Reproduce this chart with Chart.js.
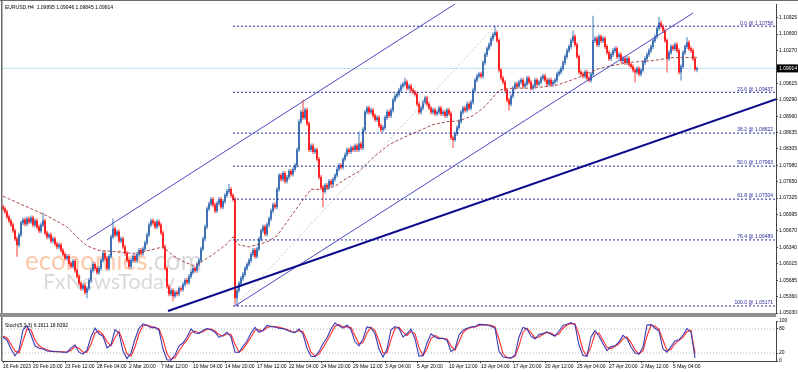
<!DOCTYPE html>
<html>
<head>
<meta charset="utf-8">
<script src="https://cdn.jsdelivr.net/npm/chart.js@4.4.1/dist/chart.umd.min.js"></script>
<style>
html, body { margin: 0; padding: 0; background: #fff; }
#wrap { position: relative; width: 798px; height: 372px; overflow: hidden; background: #fff; }
#main { position: absolute; left: 0; top: 0; }
#stoch { position: absolute; left: 0; top: 317px; }
</style>
</head>
<body>
<div id="wrap">
  <canvas id="main" width="798" height="317"></canvas>
  <canvas id="stoch" width="798" height="55"></canvas>
</div>
<script>
// EURUSD H4 candles (one bar = one H4 period)
const opens = [
1.0715,1.0711,1.0705,1.0695,1.0687,1.0679,1.0667,1.0651,1.0639,1.0659,
1.0683,1.0689,1.0681,1.0691,1.0685,1.0693,1.0679,1.0687,1.0675,1.0667,
1.0679,1.0687,1.0663,1.0655,1.0659,1.0647,1.0651,1.0641,1.0635,1.0639,
1.0628,1.0620,1.0612,1.0616,1.0602,1.0596,1.0606,1.0588,1.0576,1.0562,
1.0552,1.0558,1.0544,1.0552,1.0568,1.0588,1.0600,1.0592,1.0584,1.0592,
1.0608,1.0622,1.0612,1.0592,1.0616,1.0655,1.0671,1.0659,1.0665,1.0647,
1.0651,1.0635,1.0622,1.0608,1.0596,1.0608,1.0616,1.0608,1.0620,1.0628,
1.0622,1.0631,1.0643,1.0659,1.0679,1.0687,1.0683,1.0675,1.0685,1.0679,
1.0663,1.0635,1.0592,1.0556,1.0541,1.0548,1.0537,1.0544,1.0541,1.0552,
1.0550,1.0560,1.0568,1.0564,1.0576,1.0584,1.0592,1.0588,1.0600,1.0608,
1.0631,1.0651,1.0675,1.0711,1.0721,1.0730,1.0719,1.0707,1.0722,1.0730,
1.0715,1.0726,1.0738,1.0746,1.0750,1.0738,1.0730,1.0533,1.0548,1.0562,
1.0572,1.0580,1.0592,1.0600,1.0608,1.0620,1.0628,1.0616,1.0631,1.0651,
1.0667,1.0675,1.0661,1.0679,1.0691,1.0707,1.0719,1.0715,1.0750,1.0778,
1.0770,1.0782,1.0766,1.0774,1.0786,1.0780,1.0790,1.0798,1.0829,1.0885,
1.0904,1.0893,1.0908,1.0881,1.0829,1.0837,1.0825,1.0829,1.0810,1.0774,
1.0754,1.0746,1.0758,1.0754,1.0766,1.0760,1.0770,1.0778,1.0790,1.0798,
1.0794,1.0810,1.0819,1.0829,1.0825,1.0833,1.0829,1.0837,1.0829,1.0841,
1.0833,1.0869,1.0904,1.0912,1.0904,1.0908,1.0897,1.0889,1.0893,1.0877,
1.0869,1.0873,1.0893,1.0904,1.0897,1.0908,1.0928,1.0936,1.0940,1.0948,
1.0956,1.0960,1.0964,1.0952,1.0956,1.0948,1.0944,1.0940,1.0920,1.0904,
1.0912,1.0924,1.0932,1.0920,1.0912,1.0904,1.0908,1.0901,1.0904,1.0912,
1.0901,1.0904,1.0897,1.0908,1.0901,1.0853,1.0849,1.0861,1.0873,1.0885,
1.0904,1.0912,1.0908,1.0920,1.0912,1.0924,1.0948,1.0968,1.0976,1.0980,
1.0976,1.1003,1.1019,1.1031,1.1039,1.1051,1.1059,1.1063,1.1047,1.0988,
1.0972,1.0964,1.0948,1.0928,1.0920,1.0936,1.0952,1.0960,1.0956,1.0964,
1.0968,1.0956,1.0960,1.0972,1.0964,1.0952,1.0956,1.0968,1.0960,1.0964,
1.0972,1.0976,1.0968,1.0960,1.0968,1.0960,1.0964,1.0968,1.0980,1.0984,
1.0991,1.1003,1.1015,1.1027,1.1035,1.1047,1.1055,1.1039,1.1015,1.0984,
1.0980,1.0976,1.0984,1.0972,1.0968,1.0980,1.1047,1.1051,1.1039,1.1055,
1.1047,1.1051,1.1035,1.1023,1.1011,1.1019,1.1027,1.1031,1.1015,1.1019,
1.1007,1.1011,1.1003,1.1011,1.0999,1.0995,1.0988,1.0984,1.0991,1.0980,
1.0988,1.1003,1.1011,1.1019,1.1027,1.1035,1.1047,1.1055,1.1071,1.1082,
1.1075,1.1067,1.1047,1.1011,1.1023,1.1035,1.1031,1.1039,1.1027,1.0984,
1.0995,1.1023,1.1035,1.1043,1.1031,1.1027,1.1011,1.09895
];
const highs = [
1.0719,1.0715,1.0709,1.0699,1.0691,1.0683,1.0671,1.0655,1.0663,1.0687,
1.0693,1.0693,1.0695,1.0695,1.0697,1.0697,1.0691,1.0691,1.0679,1.0683,
1.0703,1.0691,1.0667,1.0663,1.0663,1.0655,1.0655,1.0645,1.0643,1.0643,
1.0632,1.0624,1.0620,1.0620,1.0606,1.0610,1.0610,1.0592,1.0580,1.0566,
1.0562,1.0562,1.0556,1.0572,1.0592,1.0604,1.0604,1.0596,1.0596,1.0612,
1.0626,1.0626,1.0616,1.0620,1.0659,1.0691,1.0675,1.0669,1.0669,1.0655,
1.0655,1.0639,1.0626,1.0612,1.0612,1.0620,1.0620,1.0624,1.0632,1.0632,
1.0635,1.0647,1.0663,1.0683,1.0691,1.0691,1.0687,1.0689,1.0689,1.0683,
1.0667,1.0639,1.0596,1.0560,1.0552,1.0552,1.0548,1.0548,1.0556,1.0556,
1.0564,1.0572,1.0572,1.0580,1.0588,1.0596,1.0596,1.0604,1.0612,1.0635,
1.0655,1.0679,1.0715,1.0725,1.0734,1.0734,1.0723,1.0726,1.0734,1.0734,
1.0730,1.0742,1.0750,1.0760,1.0754,1.0742,1.0734,1.0552,1.0566,1.0576,
1.0584,1.0596,1.0604,1.0612,1.0624,1.0632,1.0632,1.0635,1.0655,1.0671,
1.0679,1.0679,1.0683,1.0695,1.0711,1.0723,1.0723,1.0754,1.0782,1.0782,
1.0786,1.0786,1.0778,1.0790,1.0790,1.0794,1.0802,1.0833,1.0889,1.0908,
1.0928,1.0912,1.0912,1.0885,1.0841,1.0841,1.0833,1.0833,1.0814,1.0778,
1.0758,1.0762,1.0762,1.0770,1.0770,1.0774,1.0782,1.0794,1.0802,1.0802,
1.0814,1.0823,1.0833,1.0833,1.0837,1.0837,1.0841,1.0841,1.0865,1.0845,
1.0873,1.0908,1.0916,1.0916,1.0912,1.0912,1.0901,1.0897,1.0897,1.0881,
1.0877,1.0897,1.0908,1.0908,1.0912,1.0932,1.0940,1.0944,1.0952,1.0960,
1.0964,1.0972,1.0968,1.0960,1.0960,1.0952,1.0948,1.0944,1.0924,1.0916,
1.0928,1.0936,1.0936,1.0924,1.0916,1.0912,1.0912,1.0908,1.0916,1.0916,
1.0908,1.0908,1.0912,1.0912,1.0905,1.0857,1.0865,1.0877,1.0889,1.0908,
1.0916,1.0916,1.0924,1.0924,1.0928,1.0952,1.0972,1.0980,1.0984,1.0984,
1.1007,1.1023,1.1035,1.1043,1.1055,1.1063,1.1076,1.1067,1.1051,1.0992,
1.0976,1.0968,1.0952,1.0932,1.0940,1.0956,1.0964,1.0964,1.0968,1.0972,
1.0972,1.0964,1.0976,1.0976,1.0968,1.0960,1.0972,1.0972,1.0968,1.0976,
1.0980,1.0980,1.0972,1.0972,1.0972,1.0968,1.0972,1.0984,1.0988,1.0995,
1.1007,1.1019,1.1031,1.1039,1.1051,1.1067,1.1059,1.1043,1.1019,1.0988,
1.0984,1.0988,1.0988,1.0976,1.0984,1.1096,1.1055,1.1055,1.1059,1.1059,
1.1055,1.1055,1.1039,1.1027,1.1023,1.1031,1.1035,1.1035,1.1023,1.1023,
1.1015,1.1015,1.1015,1.1015,1.1003,1.0999,1.0992,1.0995,1.0995,1.0992,
1.1007,1.1015,1.1023,1.1031,1.1039,1.1051,1.1059,1.1075,1.1094,1.1086,
1.1079,1.1071,1.1051,1.1027,1.1039,1.1039,1.1043,1.1043,1.1031,1.0999,
1.1027,1.1039,1.1053,1.1047,1.1035,1.1031,1.1015,1.09946
];
const lows = [
1.0707,1.0701,1.0691,1.0683,1.0675,1.0663,1.0647,1.0616,1.0635,1.0655,
1.0679,1.0677,1.0677,1.0681,1.0681,1.0675,1.0675,1.0671,1.0663,1.0663,
1.0675,1.0659,1.0651,1.0651,1.0643,1.0643,1.0637,1.0631,1.0631,1.0624,
1.0616,1.0608,1.0608,1.0598,1.0592,1.0592,1.0584,1.0572,1.0558,1.0548,
1.0548,1.0540,1.0533,1.0548,1.0564,1.0584,1.0588,1.0580,1.0580,1.0588,
1.0604,1.0608,1.0588,1.0588,1.0612,1.0651,1.0655,1.0655,1.0643,1.0643,
1.0631,1.0618,1.0604,1.0592,1.0592,1.0604,1.0604,1.0604,1.0616,1.0618,
1.0618,1.0627,1.0639,1.0655,1.0675,1.0679,1.0671,1.0671,1.0675,1.0659,
1.0631,1.0588,1.0552,1.0537,1.0537,1.0527,1.0533,1.0537,1.0537,1.0546,
1.0546,1.0556,1.0560,1.0560,1.0572,1.0580,1.0584,1.0584,1.0596,1.0604,
1.0627,1.0647,1.0671,1.0707,1.0717,1.0715,1.0703,1.0703,1.0718,1.0711,
1.0711,1.0722,1.0734,1.0742,1.0734,1.0726,1.0520,1.0517,1.0544,1.0558,
1.0568,1.0576,1.0588,1.0596,1.0604,1.0616,1.0612,1.0612,1.0627,1.0647,
1.0663,1.0657,1.0657,1.0675,1.0687,1.0703,1.0711,1.0711,1.0746,1.0766,
1.0766,1.0762,1.0762,1.0770,1.0776,1.0776,1.0786,1.0794,1.0825,1.0881,
1.0889,1.0889,1.0877,1.0825,1.0825,1.0821,1.0821,1.0806,1.0770,1.0750,
1.0715,1.0742,1.0750,1.0750,1.0756,1.0756,1.0766,1.0774,1.0786,1.0790,
1.0790,1.0806,1.0815,1.0821,1.0821,1.0825,1.0825,1.0825,1.0825,1.0829,
1.0829,1.0865,1.0900,1.0900,1.0900,1.0893,1.0885,1.0885,1.0873,1.0865,
1.0865,1.0869,1.0889,1.0893,1.0893,1.0904,1.0924,1.0932,1.0936,1.0944,
1.0952,1.0956,1.0948,1.0948,1.0944,1.0940,1.0936,1.0916,1.0900,1.0900,
1.0908,1.0920,1.0916,1.0908,1.0900,1.0900,1.0897,1.0897,1.0900,1.0897,
1.0897,1.0893,1.0893,1.0897,1.0849,1.0833,1.0845,1.0857,1.0869,1.0881,
1.0900,1.0904,1.0904,1.0908,1.0908,1.0920,1.0944,1.0964,1.0972,1.0972,
1.0972,1.0999,1.1015,1.1027,1.1035,1.1047,1.1055,1.1043,1.0984,1.0968,
1.0960,1.0944,1.0924,1.0908,1.0916,1.0932,1.0948,1.0952,1.0952,1.0960,
1.0952,1.0952,1.0956,1.0960,1.0948,1.0948,1.0952,1.0956,1.0956,1.0960,
1.0968,1.0964,1.0956,1.0956,1.0956,1.0956,1.0960,1.0964,1.0976,1.0980,
1.0987,1.0999,1.1011,1.1023,1.1031,1.1043,1.1035,1.1011,1.0980,1.0976,
1.0972,1.0972,1.0968,1.0964,1.0964,1.0976,1.1043,1.1035,1.1035,1.1043,
1.1043,1.1031,1.1019,1.1007,1.1007,1.1015,1.1023,1.1011,1.1011,1.1003,
1.1003,1.0999,1.0999,1.0995,1.0991,1.0984,1.0964,1.0980,1.0976,1.0976,
1.0984,1.0999,1.1007,1.1015,1.1023,1.1031,1.1043,1.1051,1.1067,1.1071,
1.1063,1.1043,1.0984,1.1007,1.1019,1.1027,1.1027,1.1023,1.0980,1.0968,
1.0991,1.1019,1.1031,1.1027,1.1023,1.1007,1.0986,1.09845
];
const closes = [
1.0711,1.0705,1.0695,1.0687,1.0679,1.0667,1.0651,1.0639,1.0659,1.0683,
1.0689,1.0681,1.0691,1.0685,1.0693,1.0679,1.0687,1.0675,1.0667,1.0679,
1.0687,1.0663,1.0655,1.0659,1.0647,1.0651,1.0641,1.0635,1.0639,1.0628,
1.0620,1.0612,1.0616,1.0602,1.0596,1.0606,1.0588,1.0576,1.0562,1.0552,
1.0558,1.0544,1.0552,1.0568,1.0588,1.0600,1.0592,1.0584,1.0592,1.0608,
1.0622,1.0612,1.0592,1.0616,1.0655,1.0671,1.0659,1.0665,1.0647,1.0651,
1.0635,1.0622,1.0608,1.0596,1.0608,1.0616,1.0608,1.0620,1.0628,1.0622,
1.0631,1.0643,1.0659,1.0679,1.0687,1.0683,1.0675,1.0685,1.0679,1.0663,
1.0635,1.0592,1.0556,1.0541,1.0548,1.0537,1.0544,1.0541,1.0552,1.0550,
1.0560,1.0568,1.0564,1.0576,1.0584,1.0592,1.0588,1.0600,1.0608,1.0631,
1.0651,1.0675,1.0711,1.0721,1.0730,1.0719,1.0707,1.0722,1.0730,1.0715,
1.0726,1.0738,1.0746,1.0750,1.0738,1.0730,1.0533,1.0548,1.0562,1.0572,
1.0580,1.0592,1.0600,1.0608,1.0620,1.0628,1.0616,1.0631,1.0651,1.0667,
1.0675,1.0661,1.0679,1.0691,1.0707,1.0719,1.0715,1.0750,1.0778,1.0770,
1.0782,1.0766,1.0774,1.0786,1.0780,1.0790,1.0798,1.0829,1.0885,1.0904,
1.0893,1.0908,1.0881,1.0829,1.0837,1.0825,1.0829,1.0810,1.0774,1.0754,
1.0746,1.0758,1.0754,1.0766,1.0760,1.0770,1.0778,1.0790,1.0798,1.0794,
1.0810,1.0819,1.0829,1.0825,1.0833,1.0829,1.0837,1.0829,1.0841,1.0833,
1.0869,1.0904,1.0912,1.0904,1.0908,1.0897,1.0889,1.0893,1.0877,1.0869,
1.0873,1.0893,1.0904,1.0897,1.0908,1.0928,1.0936,1.0940,1.0948,1.0956,
1.0960,1.0964,1.0952,1.0956,1.0948,1.0944,1.0940,1.0920,1.0904,1.0912,
1.0924,1.0932,1.0920,1.0912,1.0904,1.0908,1.0901,1.0904,1.0912,1.0901,
1.0904,1.0897,1.0908,1.0901,1.0853,1.0849,1.0861,1.0873,1.0885,1.0904,
1.0912,1.0908,1.0920,1.0912,1.0924,1.0948,1.0968,1.0976,1.0980,1.0976,
1.1003,1.1019,1.1031,1.1039,1.1051,1.1059,1.1063,1.1047,1.0988,1.0972,
1.0964,1.0948,1.0928,1.0920,1.0936,1.0952,1.0960,1.0956,1.0964,1.0968,
1.0956,1.0960,1.0972,1.0964,1.0952,1.0956,1.0968,1.0960,1.0964,1.0972,
1.0976,1.0968,1.0960,1.0968,1.0960,1.0964,1.0968,1.0980,1.0984,1.0991,
1.1003,1.1015,1.1027,1.1035,1.1047,1.1055,1.1039,1.1015,1.0984,1.0980,
1.0976,1.0984,1.0972,1.0968,1.0980,1.1047,1.1051,1.1039,1.1055,1.1047,
1.1051,1.1035,1.1023,1.1011,1.1019,1.1027,1.1031,1.1015,1.1019,1.1007,
1.1011,1.1003,1.1011,1.0999,1.0995,1.0988,1.0984,1.0991,1.0980,1.0988,
1.1003,1.1011,1.1019,1.1027,1.1035,1.1047,1.1055,1.1071,1.1082,1.1075,
1.1067,1.1047,1.1011,1.1023,1.1035,1.1031,1.1039,1.1027,1.0984,1.0995,
1.1023,1.1035,1.1043,1.1031,1.1027,1.1011,1.0990,1.09914
];

// moving average (dashed brown line), sampled along the curve
const maIdx = [0,12,23,32,38,42,48,55,65,73,80,85,90,95,98,105,112,115,118,123,
  132,137,142,149,154,161,166,171,178,185,193,200,207,215,222,228,235,240,243,248,
  255,265,277,287,298,312,325,335,347];
const maVal = [1.0736,1.0715,1.0695,1.0675,1.0651,1.0637,1.0628,1.0626,1.0622,1.0628,
  1.0635,1.0618,1.0606,1.0598,1.0602,1.0620,1.0641,1.0655,1.0639,1.0635,
  1.0645,1.0657,1.0685,1.0724,1.0750,1.0750,1.0756,1.0770,1.0786,1.0813,
  1.0839,1.0853,1.0865,1.0879,1.0885,1.0887,1.0897,1.0912,1.0924,1.0948,
  1.0952,1.0952,1.0958,1.0972,1.0991,1.1003,1.1007,1.1013,1.1013];

// fibonacci retracement
const fibNames = ['0.0', '23.6', '38.2', '50.0', '61.8', '76.4', '100.0'];
const fibLevels = [1.10758, 1.09437, 1.08622, 1.07963, 1.07304, 1.06489, 1.05171];
const fibStart = 115;
const fibBaseIdx = [116, 246];

// drawn objects: channel and support line (bar index / price)
const chanUpIdx = [42, 226], chanUpVal = [1.0649, 1.1120];
const chanLoIdx = [116, 345], chanLoVal = [1.0517, 1.1102];
const trendIdx = [82.5, 386.5], trendVal = [1.0507, 1.0930];

// price axis
const priceTicks = [1.10925, 1.10600, 1.10270, 1.09615, 1.09290, 1.08960, 1.08635, 1.08305,
  1.07980, 1.07650, 1.07325, 1.06995, 1.06670, 1.06340, 1.06015, 1.05685, 1.05360, 1.05030];

// time axis
const dateIdx = [0, 15, 31, 47, 63, 79, 95, 111, 127, 143, 159, 175, 191, 207, 223, 239, 255, 271, 287, 303, 319, 335];
const dateLabels = ['16 Feb 2023', '20 Feb 20:00', '23 Feb 12:00', '28 Feb 04:00', '2 Mar 20:00', '7 Mar 12:00',
  '10 Mar 04:00', '14 Mar 20:00', '17 Mar 12:00', '22 Mar 04:00', '24 Mar 20:00', '29 Mar 12:00',
  '3 Apr 04:00', '5 Apr 20:00', '10 Apr 12:00', '13 Apr 04:00', '17 Apr 20:00', '20 Apr 12:00',
  '25 Apr 04:00', '27 Apr 20:00', '2 May 12:00', '5 May 04:00'];

// Stochastic(5,3,3), one reading every second bar
const stochK = [60,52,30,13,28,78,88,65,38,32,30,25,24,23,23,22,22,33,40,22,
  17,27,60,82,68,62,33,40,78,70,25,6,20,55,82,93,89,83,84,77,
  30,3,2,15,38,45,60,80,70,69,77,81,78,72,59,64,72,60,22,22,
  37,50,70,84,72,77,89,86,85,82,81,77,73,71,80,67,32,12,11,24,
  43,58,80,95,88,82,90,78,48,38,55,85,83,68,30,10,30,78,86,82,
  60,68,80,55,12,14,45,68,60,56,57,52,24,30,65,77,82,85,86,92,
  91,90,87,82,25,10,8,7,15,60,84,80,62,55,66,69,73,67,62,75,
  89,92,96,90,40,14,12,60,76,62,43,26,36,38,48,64,56,35,20,17,
  35,90,91,82,75,30,22,36,50,53,65,81,72,8];
const stochD = [62,58,42,25,20,50,80,78,52,38,32,28,25,24,23,23,22,27,36,32,
  22,22,42,70,75,66,48,38,58,74,48,18,12,35,68,88,90,86,84,80,
  55,18,4,8,25,40,52,70,75,70,73,79,80,75,66,62,68,66,42,22,
  30,44,60,77,78,75,83,87,86,84,82,79,75,72,76,73,50,22,12,17,
  33,50,68,87,91,85,86,84,63,43,46,70,84,76,50,20,20,54,82,84,
  72,64,74,68,34,13,30,56,64,58,56,55,38,27,48,71,80,84,85,89,
  91,90,89,85,55,18,9,8,11,38,72,82,71,58,60,67,71,70,64,68,
  82,90,94,93,65,27,13,36,68,70,52,34,31,37,43,56,60,46,28,18,
  26,62,90,87,79,52,26,29,43,52,59,73,77,19];
const stochLevels = [20, 80];
const stochTicks = [0, 20, 80, 100];

const FONT = '"Liberation Sans", Arial, sans-serif';
const X_MIN = -0.5, X_MAX = 386.5;
const last = closes.length - 1;
const lastPrice = closes[last];
const isUp = i => closes[i] >= opens[i];

function seg(xs, ys) { return xs.map((x, k) => ({x: x, y: ys[k]})); }
function hline(x0, x1, v) { return [{x: x0, y: v}, {x: x1, y: v}]; }

const mainDatasets = [
  { type: 'line', data: hline(X_MIN, X_MAX, lastPrice), borderColor: '#bfe2ee', borderWidth: 1, pointRadius: 0, order: 9 },
  { type: 'bar', data: closes.map((c, i) => ({x: i, y: [lows[i], highs[i]]})), grouped: false, barThickness: 1,
    backgroundColor: ctx => isUp(ctx.dataIndex) ? '#8fb0d8' : '#ff8a8a', order: 7 },
  { type: 'bar', data: closes.map((c, i) => ({x: i, y: [opens[i], c]})), grouped: false, barThickness: 1.3,
    backgroundColor: ctx => isUp(ctx.dataIndex) ? '#3f70b4' : '#ff2020', order: 6 },
  { type: 'line', data: seg(maIdx, maVal), borderColor: '#a94848', borderWidth: 1, borderDash: [3, 2], pointRadius: 0, order: 5 },
  { type: 'line', data: seg(fibBaseIdx, [fibLevels[6], fibLevels[0]]), borderColor: '#c9c9c9', borderWidth: 1, borderDash: [2, 2], pointRadius: 0, order: 4 }
];
fibLevels.forEach(lv => mainDatasets.push({
  type: 'line', data: hline(fibStart, X_MAX, lv), borderColor: '#2a2a9e', borderWidth: 1, borderDash: [2, 2], pointRadius: 0, order: 3
}));
mainDatasets.push(
  { type: 'line', data: seg(chanUpIdx, chanUpVal), borderColor: '#4a4ac2', borderWidth: 1, pointRadius: 0, order: 2 },
  { type: 'line', data: seg(chanLoIdx, chanLoVal), borderColor: '#4a4ac2', borderWidth: 1, pointRadius: 0, order: 2 },
  { type: 'line', data: seg(trendIdx, trendVal), borderColor: '#0c0c8e', borderWidth: 2, pointRadius: 0, order: 1 }
);

const mainDecor = {
  id: 'mainDecor',
  beforeDatasetsDraw(chart) {
    const ctx = chart.ctx;
    ctx.save();
    ctx.textBaseline = 'alphabetic';
    ctx.font = '26px Lato, "Open Sans", sans-serif';
    ctx.fillStyle = 'rgba(247,150,88,0.5)';
    ctx.fillText('economies', 25, 270);
    const w = ctx.measureText('economies').width;
    ctx.fillStyle = 'rgba(170,170,170,0.45)';
    ctx.fillText('.com', 25 + w, 270);
    ctx.font = '22px Lato, "Open Sans", sans-serif';
    ctx.fillText('FxNewsToday', 43, 289);
    ctx.restore();
  },
  afterDraw(chart) {
    const ctx = chart.ctx, a = chart.chartArea, y = chart.scales.y;
    ctx.save();
    ctx.font = '5px ' + FONT;
    // fibo level captions
    ctx.fillStyle = '#26269a';
    ctx.textAlign = 'right';
    ctx.textBaseline = 'bottom';
    fibLevels.forEach((lv, k) => {
      ctx.fillText(fibNames[k] + ' @ ' + lv.toFixed(5), a.right - 3, y.getPixelForValue(lv) - 0.5);
    });
    // symbol line
    ctx.fillStyle = '#000';
    ctx.textAlign = 'left';
    ctx.textBaseline = 'top';
    const ohlc = [opens[last], highs[last], lows[last], closes[last]].map(v => v.toFixed(5)).join(' ');
    ctx.fillText('EURUSD,H4  ' + ohlc, a.left + 3, 5);
    // last price box on the axis
    const py = y.getPixelForValue(lastPrice);
    ctx.fillStyle = '#000';
    ctx.fillRect(a.right + 1, py - 4, chart.width - a.right - 1, 8);
    ctx.fillStyle = '#fff';
    ctx.textBaseline = 'middle';
    ctx.fillText(lastPrice.toFixed(5), a.right + 3, py);
    // frame
    ctx.fillStyle = '#6a6a6a';
    ctx.fillRect(0, 0, chart.width, 1);
    ctx.fillRect(1, 0, 1.5, chart.height);
    ctx.fillStyle = '#8e8e8e';
    ctx.fillRect(0, a.bottom, a.right, chart.height - a.bottom);
    ctx.restore();
  }
};

new Chart(document.getElementById('main'), {
  type: 'bar',
  data: { datasets: mainDatasets },
  options: {
    responsive: false,
    animation: false,
    events: [],
    layout: { padding: { left: 2, top: 3, right: 0, bottom: 2 } },
    plugins: { legend: { display: false }, tooltip: { enabled: false } },
    scales: {
      x: { type: 'linear', min: X_MIN, max: X_MAX, offset: false, display: false },
      y: {
        position: 'right', min: 1.0503, max: 1.1120,
        afterFit: s => { s.width = 22; },
        afterBuildTicks: s => { s.ticks = priceTicks.map(v => ({value: v})); },
        ticks: { font: { size: 5, family: FONT }, color: '#000', padding: 1, callback: v => v.toFixed(5) },
        grid: { drawOnChartArea: false, tickLength: 2, color: '#444' },
        border: { color: '#444' }
      }
    }
  },
  plugins: [mainDecor]
});

const stochDecor = {
  id: 'stochDecor',
  afterDraw(chart) {
    const ctx = chart.ctx, a = chart.chartArea;
    ctx.save();
    ctx.font = '5px ' + FONT;
    ctx.fillStyle = '#000';
    ctx.textBaseline = 'top';
    ctx.fillText('Stoch(5,3,3) 6.1611 18.8392', a.left + 3, a.top + 2);
    ctx.fillStyle = '#6a6a6a';
    ctx.fillRect(1, 0, 1.5, a.bottom);
    ctx.restore();
  }
};

const stochDatasets = stochLevels.map(lv => ({
  data: hline(X_MIN, X_MAX, lv), borderColor: '#b4b4b4', borderWidth: 1, borderDash: [1, 2], pointRadius: 0, order: 3
}));
stochDatasets.push(
  { data: stochD.map((v, j) => ({x: 2 * j, y: v})), borderColor: '#ff2b2b', borderWidth: 1.1, pointRadius: 0, order: 2 },
  { data: stochK.map((v, j) => ({x: 2 * j, y: v})), borderColor: '#3a3ab6', borderWidth: 1.1, pointRadius: 0, order: 1 }
);

new Chart(document.getElementById('stoch'), {
  type: 'line',
  data: { datasets: stochDatasets },
  options: {
    responsive: false,
    animation: false,
    events: [],
    layout: { padding: { left: 2, top: 1, right: 0, bottom: 0 } },
    plugins: { legend: { display: false }, tooltip: { enabled: false } },
    scales: {
      x: {
        type: 'linear', min: X_MIN, max: X_MAX, offset: false,
        afterFit: s => { s.height = 11; },
        afterBuildTicks: s => { s.ticks = dateIdx.map(v => ({value: v})); },
        ticks: { autoSkip: false, maxRotation: 0, align: 'start', padding: 1, font: { size: 5, family: FONT }, color: '#000',
          callback: (v, i) => dateLabels[i] },
        grid: { drawOnChartArea: false, tickLength: 2, color: '#444' },
        border: { color: '#444' }
      },
      y: {
        position: 'right', min: 0, max: 100,
        afterFit: s => { s.width = 22; },
        afterBuildTicks: s => { s.ticks = stochTicks.map(v => ({value: v})); },
        ticks: { font: { size: 5, family: FONT }, color: '#000', padding: 1 },
        grid: { drawOnChartArea: false, tickLength: 2, color: '#444' },
        border: { color: '#444' }
      }
    }
  },
  plugins: [stochDecor]
});
</script>
</body>
</html>
